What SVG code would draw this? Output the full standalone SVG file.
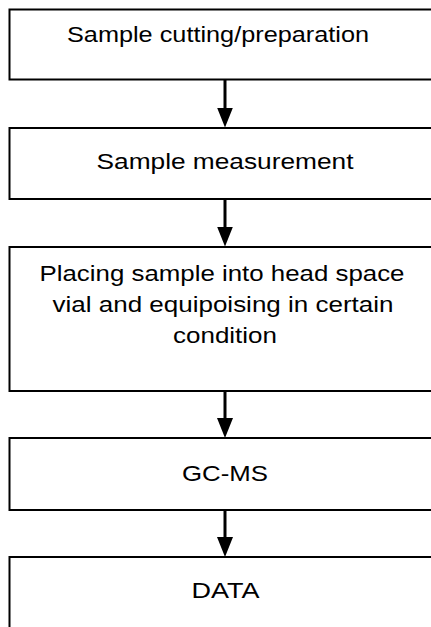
<svg xmlns="http://www.w3.org/2000/svg" width="431" height="627" viewBox="0 0 431 627">
<defs>
<style>
.box{fill:#fff;stroke:#000;stroke-width:2}
.t{font-family:"Liberation Sans",Arial,sans-serif;font-size:22.5px;fill:#000;text-anchor:middle}
.c{stroke:#000;stroke-width:3;fill:none}
</style>
<marker id="ah" markerUnits="userSpaceOnUse" viewBox="0 0 20 16" markerWidth="20" markerHeight="16" refX="10" refY="8" orient="auto">
<path d="M0,0 L20,8 L0,16 z" fill="#000"/>
</marker>
</defs>
<rect width="431" height="627" fill="#fff"/>
<g id="n1">
<rect class="box" x="9.5" y="9.5" width="431" height="70"/>
<text class="t" x="218" y="42" textLength="302" lengthAdjust="spacingAndGlyphs">Sample cutting/preparation</text>
</g>
<g id="n2">
<rect class="box" x="9.5" y="128" width="431" height="71"/>
<text class="t" x="225" y="169" textLength="257" lengthAdjust="spacingAndGlyphs">Sample measurement</text>
</g>
<g id="n3">
<rect class="box" x="9.5" y="247" width="431" height="144"/>
<text class="t" x="222" y="281" textLength="365" lengthAdjust="spacingAndGlyphs">Placing sample into head space</text>
<text class="t" x="223" y="312" textLength="341" lengthAdjust="spacingAndGlyphs">vial and equipoising in certain</text>
<text class="t" x="225" y="343" textLength="104" lengthAdjust="spacingAndGlyphs">condition</text>
</g>
<g id="n4">
<rect class="box" x="9.5" y="438" width="431" height="72"/>
<text class="t" x="225" y="481" textLength="86" lengthAdjust="spacingAndGlyphs">GC-MS</text>
</g>
<g id="n5">
<rect class="box" x="9.5" y="557" width="431" height="90"/>
<text class="t" x="225.5" y="598" textLength="68" lengthAdjust="spacingAndGlyphs">DATA</text>
</g>
<g id="connectors">
<line class="c" x1="225" y1="80" x2="225" y2="117.5" marker-end="url(#ah)"/>
<line class="c" x1="225" y1="199.5" x2="225" y2="236.5" marker-end="url(#ah)"/>
<line class="c" x1="225" y1="391.5" x2="225" y2="428" marker-end="url(#ah)"/>
<line class="c" x1="225" y1="510.5" x2="225" y2="547" marker-end="url(#ah)"/>
</g>
</svg>
